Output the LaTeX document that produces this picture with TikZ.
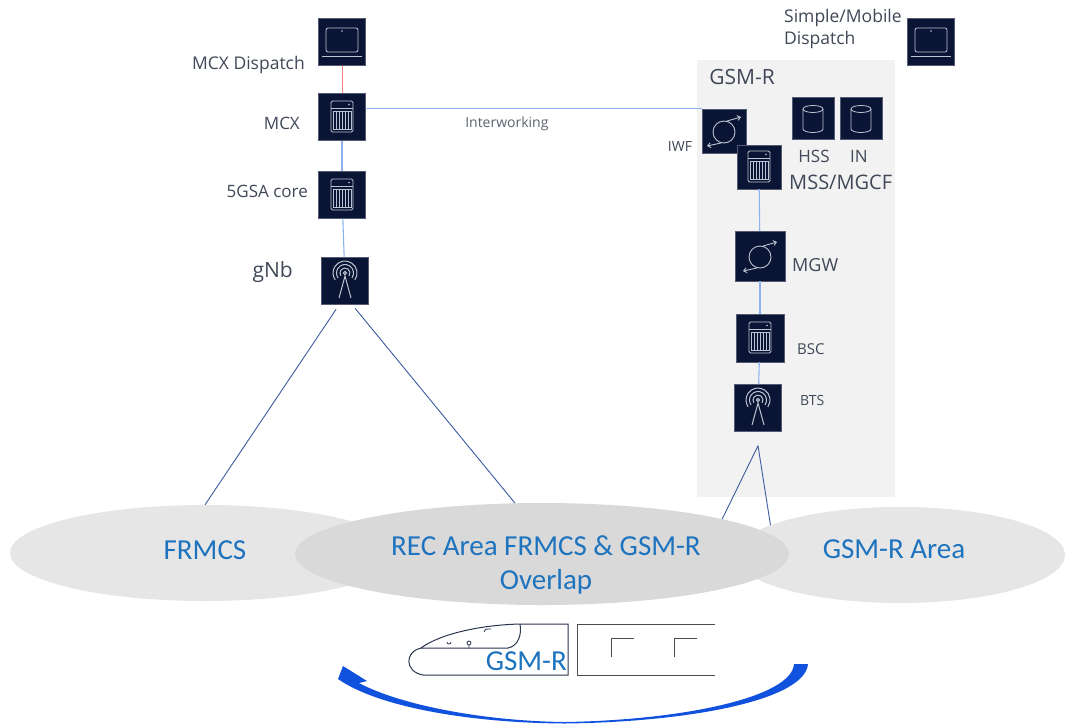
\documentclass[tikz,border=0pt]{standalone}
\usepackage{fontspec}
\setmainfont{Open Sans}
\newfontfamily\calibri{Carlito}
\usetikzlibrary{arrows.meta,shapes.geometric}

\definecolor{navy}{RGB}{10,20,52}
\definecolor{glyph}{RGB}{190,196,210}
\definecolor{linkblue}{RGB}{140,178,240}
\definecolor{linkred}{RGB}{240,130,130}
\definecolor{legblue}{RGB}{60,90,160}
\definecolor{txtgray}{RGB}{64,72,88}
\definecolor{areablue}{RGB}{30,115,190}
\definecolor{boxgray}{RGB}{242,242,242}
\definecolor{areagray}{RGB}{230,230,230}
\definecolor{overlapgray}{RGB}{217,217,217}
\definecolor{arrowblue}{RGB}{16,82,222}
\definecolor{trainline}{RGB}{43,53,80}

\tikzset{
  icon/.style={fill=navy, draw=navy!70, minimum size=47pt, inner sep=0pt},
  lbl/.style={text=txtgray, inner sep=1pt, font=\fontsize{16}{19}\selectfont},
  link/.style={draw=linkblue, line width=1.1pt},
  leg/.style={draw=legblue, line width=0.9pt},
  area/.style={ellipse, inner sep=0pt},
  areatext/.style={text=areablue, align=center, inner sep=0pt,
    font=\calibri\fontsize{29}{34}\selectfont},
}

% glyphs drawn on top of the dark icon boxes, y pointing up inside
\newcommand{\drawlaptop}[1]{%
  \begin{scope}[shift={(#1.center)}, x=1pt, y=1pt, glyph, line width=0.8pt]
    \draw[rounded corners=2pt] (-16,-10) rectangle (16,14);
    \fill (0,11) circle (0.9);
    \draw (-20,-14) -- (20,-14);
  \end{scope}}
\newcommand{\drawserver}[1]{%
  \begin{scope}[shift={(#1.center)}, x=1pt, y=1pt, glyph, line width=0.8pt]
    \draw[rounded corners=1.5pt] (-11,-15) rectangle (11,16);
    \draw (-11,9) -- (11,9);
    \fill (7,12.5) circle (0.8);
    \foreach \i in {-6,-3,0,3,6}
      \draw (\i,6) -- (\i,-12);
    \draw (-9,6) rectangle (9,-12);
  \end{scope}}
\newcommand{\drawmast}[1]{%
  \begin{scope}[shift={(#1.center)}, x=1pt, y=1pt, glyph, line width=1pt]
    \draw (0,8) circle (1.6);
    \foreach \r in {5,8.5,12}
      \draw (0,8) ++(-35:\r) arc[start angle=-35, end angle=215, radius=\r];
    \draw (-6,-17) -- (0,5) -- (6,-17);
  \end{scope}}
\newcommand{\drawswap}[1]{%
  \begin{scope}[shift={(#1.center)}, x=1pt, y=1pt, glyph, line width=0.9pt]
    \draw (0,-1) circle (11);
    \draw[-{Straight Barb[length=3pt,width=5pt]}] (3,10) -- (17,14);
    \draw[-{Straight Barb[length=3pt,width=5pt]}] (-3,-12) -- (-17,-15);
  \end{scope}}
\newcommand{\drawdb}[1]{%
  \begin{scope}[shift={(#1.center)}, x=1pt, y=1pt, glyph, line width=0.8pt]
    \draw (0,9) ellipse (10 and 3.5);
    \draw (-10,9) -- (-10,-11) arc[start angle=180, end angle=360, x radius=10, y radius=3.5] -- (10,9);
  \end{scope}}

\begin{document}
\begin{tikzpicture}[x=1pt, y=-1pt, >=Latex]
  \useasboundingbox[fill=white] (0,0) rectangle (1070,725);

  % coverage areas
  \node[area, fill=areagray, minimum width=390pt, minimum height=96pt] (frmcs) at (205,553) {};
  \node[area, fill=areagray, minimum width=330pt, minimum height=96pt] (gsmarea) at (900,555) {};
  \node[area, fill=overlapgray, minimum width=494pt, minimum height=102pt] (rec) at (542,554) {};
  \node[areatext] (frmcstxt) at (205,550) {FRMCS};
  \node[areatext] (rectxt) at (546,565) {REC Area FRMCS \& GSM-R\\Overlap};
  \node[areatext] (gsmareatxt) at (894,549) {GSM-R Area};

  % GSM-R core box
  \fill[boxgray] (697,60) rectangle (895,497);
  \node[lbl, font=\fontsize{21}{25}\selectfont] (gsmr) at (742,77) {GSM-R};

  % FRMCS side
  \node[icon] (mcxdisp) at (342,42) {};
  \node[icon] (mcx) at (342,117) {};
  \node[icon] (core) at (342,195) {};
  \node[icon] (gnb) at (345,281) {};
  \drawlaptop{mcxdisp}
  \drawserver{mcx}
  \drawserver{core}
  \drawmast{gnb}

  \node[lbl, anchor=east, font=\fontsize{17.5}{21}\selectfont] (mcxdisplbl) at (306,65) {MCX Dispatch};
  \node[lbl, anchor=east, font=\fontsize{17}{20}\selectfont] (mcxlbl) at (301,123) {MCX};
  \node[lbl, anchor=east, font=\fontsize{17}{20}\selectfont] (corelbl) at (309,191) {5GSA core};
  \node[lbl, anchor=east, font=\fontsize{21}{25}\selectfont] (gnblbl) at (294,272) {gNb};

  % GSM-R side
  \node[icon] (simdisp) at (931,42) {};
  \node[icon, minimum size=44pt] (iwf) at (724,131) {};
  \node[icon, minimum size=44pt] (mss) at (759,167) {};
  \node[icon, minimum size=42pt] (hss) at (813,118) {};
  \node[icon, minimum size=42pt] (in) at (861,118) {};
  \node[icon, minimum size=50pt] (mgw) at (760,256) {};
  \node[icon, minimum size=48pt] (bsc) at (760,338) {};
  \node[icon] (bts) at (758,408) {};
  \drawlaptop{simdisp}
  \drawswap{iwf}
  \drawserver{mss}
  \drawdb{hss}
  \drawdb{in}
  \drawswap{mgw}
  \drawserver{bsc}
  \drawmast{bts}

  \node[lbl, anchor=west, align=left, font=\fontsize{17.5}{22}\selectfont] (simdisplbl) at (783,29) {Simple/Mobile\\Dispatch};
  \node[lbl, font=\fontsize{14}{17}\selectfont] (iwflbl) at (680,147) {IWF};
  \node[lbl, font=\fontsize{17}{20}\selectfont] (hsslbl) at (814,156) {HSS};
  \node[lbl, font=\fontsize{17}{20}\selectfont] (inlbl) at (859,156) {IN};
  \node[lbl, anchor=west, font=\fontsize{20}{23}\selectfont] (msslbl) at (788,182) {MSS/MGCF};
  \node[lbl, anchor=west, font=\fontsize{18}{21}\selectfont] (mgwlbl) at (791,265) {MGW};
  \node[lbl, anchor=west, font=\fontsize{15}{18}\selectfont] (bsclbl) at (796,349) {BSC};
  \node[lbl, anchor=west, font=\fontsize{14}{17}\selectfont] (btslbl) at (799,400) {BTS};

  % links
  \draw[draw=linkred, line width=1pt] (mcxdisp) -- (mcx);
  \draw[link] (mcx) -- (core);
  \draw[link] (core) -- (gnb);
  \draw[link] (iwf.north west -| mcx.east) -- (iwf.north west)
    node[pos=0.42, below=7pt, lbl, font=\fontsize{14}{17}\selectfont, text=txtgray!85] (iwlbl) {Interworking};
  \draw[link] (mss) -- (mgw);
  \draw[link] (mgw) -- (bsc);
  \draw[link] (bsc) -- (bts);

  % radio coverage
  \draw[leg, shorten <=16pt] ([yshift=-15pt]gnb.center) -- (frmcs.north);
  \draw[leg, shorten <=16pt] ([yshift=-15pt]gnb.center) -- (rec.118);
  \draw[leg] ([yshift=-14pt]bts.south) -- (rec.11);
  \draw[leg] ([yshift=-14pt]bts.south) -- (gsmarea.167);

  % train
  \draw[trainline, line width=1pt] (568,624) -- (568,675) -- (423,675)
    .. controls (405,672) and (404,652) .. (421,648)
    .. controls (440,634) and (480,625) .. (520,624) -- cycle;
  \draw[trainline, line width=1pt] (421,648) -- (508,648)
    .. controls (518,646) and (522,635) .. (520,624);
  \draw[trainline, line width=0.8pt] (469,648) -- (469,645) (469,643) circle (2);
  \draw[trainline, line width=0.8pt] (447,642) arc[start angle=180, end angle=0, radius=2];
  \draw[trainline, line width=0.8pt] (484,632) .. controls (485,629) .. (491,629);
  \node[areatext, anchor=east] (trainlbl) at (567,661) {GSM-R};
  \draw[black!70, line width=1pt] (715,624) -- (577,624) -- (577,675) -- (715,675);
  \draw[black!70, line width=1pt] (611,657) -- (611,638) -- (634,638);
  \draw[black!70, line width=1pt] (674,657) -- (674,638) -- (697,638);

  % direction of travel
  \fill[arrowblue] (808,664) .. controls (805,700) and (690,722) .. (565,723.5)
    .. controls (470,723) and (378,707) .. (338,679)
    -- (343,666) -- (367,681) -- (359,683)
    .. controls (398,704) and (480,721) .. (565,722)
    .. controls (684,720) and (792,697) .. (794,664) -- cycle;
\end{tikzpicture}
\end{document}
